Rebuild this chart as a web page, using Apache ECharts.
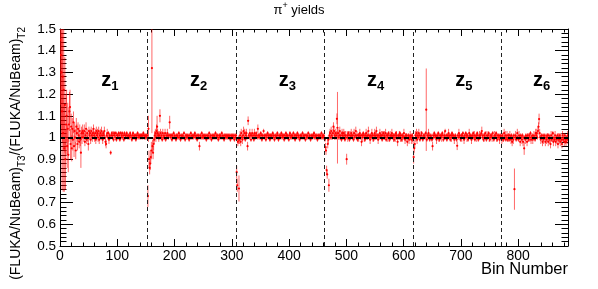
<!DOCTYPE html>
<html><head><meta charset="utf-8">
<script src="https://cdn.jsdelivr.net/npm/echarts@6/dist/echarts.min.js"></script>
<style>html,body{margin:0;padding:0;background:#fff}#c{width:598px;height:289px}</style>
</head><body><div id="c"></div>
<script>
const FONT = 'Liberation Sans, Arial, Helvetica, sans-serif';
const nBins = 887;
const zoneEdges = [153, 308, 462, 616, 771];
const zoneNames = ['1', '2', '3', '4', '5', '6'];
const zoneLabelX = [72, 227, 382, 536, 690, 826];
const zoneLabelY = 1.265;
const refLine = 1;

const ratioZ1 = [
1.45,1.38,1.30,1.12,1.28,1.02,1.22,0.95,1.15,0.90,1.06,1.10,0.96,1.04,0.92,1.06,1.12,1.14,0.97,1.05,
0.95,1.04,0.99,1.07,0.96,1.03,1.00,0.94,1.05,1.02,0.97,1.04,1.01,0.98,1.03,0.99,0.93,1.02,1.00,1.03,
1.02,1.00,1.03,0.98,1.01,1.04,0.99,1.02,1.00,0.97,1.03,1.01,1.02,0.99,1.03,1.01,1.00,1.02,1.04,1.01,
1.00,1.02,0.99,1.03,1.01,1.02,1.00,1.03,0.99,1.01,1.02,1.00,1.03,1.01,0.99,1.02,1.01,1.03,1.00,0.98,
0.97,1.01,1.02,1.00,1.02,0.99,1.01,1.00,0.93,1.01,1.02,1.00,1.01,0.99,1.02,1.01,1.00,1.02,0.99,1.01,
1.01,1.00,1.02,1.01,0.99,1.02,1.00,1.01,1.02,1.00,1.01,0.99,1.02,1.01,1.00,1.01,1.02,1.00,1.01,1.00,
1.01,1.00,1.02,1.01,1.00,0.99,1.01,1.02,1.00,1.01,1.00,1.01,0.99,1.01,1.00,1.02,1.01,1.00,1.01,1.00,
1.01,1.00,1.01,1.01,1.00,1.02,1.01,1.00,1.01,1.00,1.01,1.00,1.01];
const errZ1 = [
0.30,0.32,0.30,0.36,0.30,0.27,0.28,0.20,0.22,0.14,0.14,0.12,0.10,0.12,0.08,0.08,0.09,0.08,0.07,0.06,
0.06,0.05,0.05,0.05,0.05,0.04,0.04,0.04,0.04,0.04,0.03,0.03,0.03,0.03,0.03,0.03,0.07,0.03,0.03,0.03,
0.02,0.02,0.03,0.02,0.02,0.03,0.02,0.02,0.02,0.03,0.02,0.02,0.02,0.02,0.02,0.02,0.02,0.02,0.02,0.02,
0.02,0.02,0.02,0.02,0.02,0.02,0.02,0.02,0.02,0.02,0.02,0.01,0.02,0.02,0.02,0.01,0.02,0.02,0.01,0.02,
0.02,0.01,0.02,0.01,0.01,0.02,0.01,0.01,0.01,0.01,0.01,0.01,0.02,0.01,0.01,0.01,0.01,0.01,0.01,0.01,
0.01,0.01,0.01,0.01,0.01,0.01,0.01,0.01,0.01,0.01,0.01,0.01,0.01,0.01,0.01,0.01,0.01,0.01,0.01,0.01,
0.01,0.01,0.01,0.01,0.01,0.01,0.01,0.01,0.01,0.01,0.01,0.01,0.01,0.01,0.01,0.01,0.01,0.01,0.01,0.01,
0.01,0.01,0.01,0.01,0.01,0.01,0.01,0.01,0.01,0.01,0.01,0.01,0.01];

const ratioZ2 = [
0.73,1.04,0.90,0.86,0.88,0.91,0.94,1.32,0.96,0.93,0.97,0.99,1.01,1.02,1.00,1.03,1.05,1.02,1.01,1.00,
1.01,1.10,1.02,1.00,1.01,0.99,1.02,1.00,1.01,1.00,1.02,0.99,1.01,1.00,1.02,1.01,1.00,1.01,1.07,1.01,
1.00,1.01,0.99,1.01,1.00,1.02,1.00,1.01,1.00,0.99,1.01,1.00,1.01,1.00,1.02,1.00,1.01,0.99,1.00,1.01,
1.00,1.01,1.00,1.02,1.00,0.99,1.01,1.00,1.01,1.00,1.01,1.00,0.99,1.01,1.00,1.02,1.00,1.01,1.00,1.01,
1.00,1.01,1.02,1.00,1.01,1.00,0.99,1.01,1.00,1.01,0.96,1.00,1.01,1.00,1.02,1.00,1.01,1.00,1.01,1.00,
1.01,1.00,0.99,1.01,1.00,1.01,1.00,1.02,1.00,1.01,1.00,0.99,1.01,1.00,1.01,1.00,1.01,1.00,1.02,1.00,
1.01,1.00,1.01,0.99,1.00,1.01,1.00,1.01,1.00,1.02,1.00,1.01,1.00,0.99,1.01,1.00,1.01,1.00,1.01,1.00,
1.01,1.00,1.01,1.00,0.99,1.01,1.00,1.01,1.00,1.01,1.00,0.99,1.01,1.00,1.01];
const errZ2 = [
0.05,0.06,0.04,0.03,0.03,0.03,0.04,0.30,0.03,0.03,0.03,0.02,0.02,0.02,0.02,0.03,0.05,0.02,0.02,0.02,
0.02,0.03,0.02,0.01,0.02,0.01,0.02,0.01,0.01,0.01,0.02,0.01,0.01,0.01,0.02,0.01,0.01,0.01,0.03,0.01,
0.01,0.01,0.01,0.01,0.01,0.01,0.01,0.01,0.01,0.01,0.01,0.01,0.01,0.01,0.01,0.01,0.01,0.01,0.01,0.01,
0.01,0.01,0.01,0.01,0.01,0.01,0.01,0.01,0.01,0.01,0.01,0.01,0.01,0.01,0.01,0.01,0.01,0.01,0.01,0.01,
0.01,0.01,0.01,0.01,0.01,0.01,0.01,0.01,0.01,0.01,0.02,0.01,0.01,0.01,0.01,0.01,0.01,0.01,0.01,0.01,
0.01,0.01,0.01,0.01,0.01,0.01,0.01,0.01,0.01,0.01,0.01,0.01,0.01,0.01,0.01,0.01,0.01,0.01,0.01,0.01,
0.01,0.01,0.01,0.01,0.01,0.01,0.01,0.01,0.01,0.01,0.01,0.01,0.01,0.01,0.01,0.01,0.01,0.01,0.01,0.01,
0.01,0.01,0.01,0.01,0.01,0.01,0.01,0.01,0.01,0.01,0.01,0.01,0.01,0.01,0.01];

const ratioZ3 = [
0.84,0.78,0.98,0.99,0.765,0.99,1.01,0.98,1.02,1.00,0.99,1.01,1.03,1.00,1.02,0.99,1.01,1.02,1.00,0.96,
1.077,1.01,1.00,1.02,1.01,0.99,1.01,1.02,1.00,1.01,0.99,1.02,1.01,1.00,1.02,1.01,1.00,1.04,1.01,1.00,
1.01,1.00,1.02,1.01,0.99,1.01,1.00,1.03,1.01,1.00,1.01,0.99,1.01,1.00,1.02,1.01,1.00,1.01,0.99,1.01,
1.00,1.01,1.00,1.02,1.01,1.00,0.99,1.01,1.00,1.01,1.00,1.02,1.01,0.99,1.00,1.01,1.00,1.01,1.02,1.00,
1.01,1.00,1.01,0.99,1.01,1.00,1.02,1.01,1.00,1.01,1.00,0.99,1.01,1.02,1.00,1.01,1.00,1.01,1.00,1.02,
1.00,1.01,0.99,1.01,1.00,1.01,1.02,1.00,1.01,1.00,0.99,1.01,1.00,1.01,1.00,1.02,1.00,1.01,1.00,1.01,
0.99,1.01,1.00,1.01,1.00,1.02,1.00,1.01,1.00,0.99,1.01,1.00,1.01,1.00,1.01,1.02,1.00,1.01,1.00,1.01,
1.00,0.99,1.01,1.00,1.01,1.00,1.01,1.00,1.02,1.00,1.01,1.00,1.01,1.00];
const errZ3 = [
0.03,0.03,0.02,0.02,0.06,0.02,0.02,0.02,0.02,0.01,0.02,0.02,0.02,0.01,0.02,0.01,0.02,0.02,0.01,0.02,
0.02,0.01,0.01,0.02,0.01,0.01,0.01,0.02,0.01,0.01,0.01,0.02,0.01,0.01,0.01,0.01,0.01,0.02,0.01,0.01,
0.01,0.01,0.01,0.01,0.01,0.01,0.01,0.01,0.01,0.01,0.01,0.01,0.01,0.01,0.01,0.01,0.01,0.01,0.01,0.01,
0.01,0.01,0.01,0.01,0.01,0.01,0.01,0.01,0.01,0.01,0.01,0.01,0.01,0.01,0.01,0.01,0.01,0.01,0.01,0.01,
0.01,0.01,0.01,0.01,0.01,0.01,0.01,0.01,0.01,0.01,0.01,0.01,0.01,0.01,0.01,0.01,0.01,0.01,0.01,0.01,
0.01,0.01,0.01,0.01,0.01,0.01,0.01,0.01,0.01,0.01,0.01,0.01,0.01,0.01,0.01,0.01,0.01,0.01,0.01,0.01,
0.01,0.01,0.01,0.01,0.01,0.01,0.01,0.01,0.01,0.01,0.01,0.01,0.01,0.01,0.01,0.01,0.01,0.01,0.01,0.01,
0.01,0.01,0.01,0.01,0.01,0.01,0.01,0.01,0.01,0.01,0.01,0.01,0.01,0.01];

const ratioZ4 = [
0.99,0.955,0.94,0.85,0.83,0.97,0.99,0.78,1.01,1.02,1.00,1.03,1.01,1.00,1.02,1.05,1.03,1.01,1.00,1.02,
1.01,1.086,1.045,1.02,1.00,1.01,1.03,1.00,1.01,0.99,1.02,1.01,1.00,1.02,1.01,0.99,1.01,1.00,0.90,1.01,
1.00,1.02,1.01,0.99,1.01,1.00,1.02,1.01,1.00,1.01,0.99,1.02,1.00,1.01,1.03,1.00,1.01,0.99,1.01,1.00,
1.01,1.02,1.00,1.01,0.98,1.01,1.00,1.02,1.01,1.00,0.99,1.01,1.02,1.00,1.01,1.00,1.03,1.01,1.00,0.99,
1.01,1.00,1.02,1.01,1.00,0.99,1.01,1.02,1.00,1.01,1.03,1.00,1.01,0.99,1.01,1.00,1.02,1.01,1.00,1.01,
0.99,1.01,1.02,1.00,1.01,1.00,1.02,0.99,1.01,1.00,1.01,1.02,1.00,0.99,1.01,1.00,1.01,1.02,1.00,1.01,
1.00,0.99,1.01,1.00,1.02,1.01,1.00,0.98,1.01,1.00,1.01,1.02,1.00,1.01,0.99,1.00,1.01,1.00,1.02,1.00,
0.99,1.01,1.00,1.01,0.98,1.00,1.01,0.99,1.00,1.01,1.00,0.99,1.01,1.00];
const errZ4 = [
0.01,0.02,0.02,0.02,0.02,0.02,0.02,0.03,0.02,0.02,0.01,0.02,0.02,0.01,0.02,0.02,0.02,0.02,0.01,0.02,
0.02,0.025,0.165,0.02,0.01,0.02,0.02,0.01,0.02,0.01,0.02,0.02,0.01,0.02,0.02,0.01,0.02,0.01,0.025,0.02,
0.02,0.01,0.02,0.01,0.02,0.01,0.02,0.01,0.01,0.02,0.01,0.02,0.01,0.01,0.02,0.01,0.02,0.01,0.01,0.02,
0.01,0.02,0.01,0.01,0.02,0.01,0.02,0.01,0.01,0.02,0.01,0.01,0.02,0.01,0.02,0.01,0.02,0.01,0.01,0.02,
0.01,0.01,0.02,0.01,0.02,0.01,0.01,0.02,0.01,0.02,0.02,0.01,0.01,0.02,0.01,0.01,0.02,0.01,0.01,0.02,
0.01,0.02,0.01,0.01,0.02,0.01,0.02,0.01,0.01,0.02,0.01,0.01,0.02,0.01,0.02,0.01,0.01,0.02,0.01,0.01,
0.02,0.01,0.01,0.02,0.01,0.02,0.01,0.02,0.01,0.01,0.02,0.01,0.02,0.01,0.01,0.02,0.01,0.01,0.02,0.01,
0.02,0.01,0.02,0.01,0.02,0.01,0.01,0.02,0.01,0.02,0.01,0.02,0.01,0.02];

const ratioZ5 = [
0.99,0.91,0.95,0.97,1.01,1.00,1.02,0.99,1.01,1.00,1.02,1.01,0.99,1.00,1.01,1.02,1.00,0.99,1.01,1.00,
1.01,1.00,1.02,1.128,0.99,1.01,1.00,1.02,1.01,0.99,1.00,1.01,1.00,0.99,0.96,1.01,1.00,1.02,1.01,1.00,
1.01,0.99,1.00,1.01,1.02,1.00,0.99,1.01,1.00,1.01,1.00,1.02,1.01,0.99,1.00,1.01,1.03,1.00,1.01,0.99,
1.01,1.00,1.02,1.01,1.00,0.99,1.01,1.00,1.02,1.01,1.00,1.01,0.99,1.00,1.01,1.00,0.99,0.962,1.01,1.00,
1.02,1.01,1.00,0.99,1.01,1.00,1.01,1.02,1.00,0.99,1.01,1.00,1.02,1.01,1.00,1.01,0.99,1.00,1.02,1.01,
1.00,1.01,0.99,1.00,1.01,1.02,1.00,1.01,0.99,1.00,1.01,1.00,1.02,1.01,0.99,1.00,1.01,1.00,1.01,1.02,
1.03,1.00,1.01,0.99,1.00,1.01,1.02,1.00,0.99,1.01,1.00,1.01,1.02,1.00,0.99,1.01,1.00,1.01,1.00,1.02,
1.00,0.99,1.01,1.00,1.01,1.02,1.00,0.99,1.01,1.00,1.01,0.99,1.00,1.01,1.00];
const errZ5 = [
0.02,0.03,0.02,0.02,0.02,0.02,0.02,0.02,0.02,0.01,0.02,0.01,0.01,0.01,0.02,0.01,0.01,0.01,0.01,0.01,
0.01,0.01,0.01,0.19,0.01,0.01,0.01,0.02,0.01,0.01,0.01,0.01,0.01,0.01,0.02,0.01,0.01,0.01,0.01,0.01,
0.01,0.02,0.01,0.01,0.01,0.02,0.01,0.01,0.01,0.01,0.02,0.01,0.01,0.01,0.01,0.02,0.01,0.01,0.01,0.01,
0.01,0.01,0.02,0.01,0.01,0.01,0.01,0.02,0.01,0.01,0.01,0.01,0.02,0.01,0.01,0.01,0.01,0.02,0.01,0.01,
0.02,0.01,0.01,0.01,0.01,0.02,0.01,0.01,0.01,0.02,0.01,0.01,0.01,0.01,0.02,0.01,0.01,0.01,0.02,0.01,
0.01,0.01,0.02,0.01,0.01,0.01,0.01,0.02,0.01,0.01,0.01,0.02,0.01,0.01,0.01,0.01,0.02,0.01,0.01,0.01,
0.02,0.01,0.01,0.01,0.02,0.01,0.01,0.01,0.01,0.02,0.01,0.01,0.01,0.02,0.01,0.01,0.01,0.01,0.02,0.01,
0.01,0.01,0.02,0.01,0.01,0.01,0.02,0.01,0.01,0.01,0.01,0.02,0.01,0.01,0.01];

const ratioZ6 = [
0.99,1.01,1.00,0.99,1.02,1.00,1.01,0.99,1.00,1.01,0.99,1.00,1.01,0.99,1.01,1.00,0.99,1.01,0.98,1.00,
0.99,1.01,0.762,1.00,1.01,0.99,1.00,1.02,1.00,0.99,1.01,1.00,0.98,1.01,1.00,0.99,1.01,0.98,1.00,0.95,
1.00,0.99,1.01,1.00,0.98,1.01,1.00,0.99,1.01,1.00,1.02,0.99,1.00,1.01,0.99,1.00,1.01,1.00,0.99,1.02,
1.01,1.02,1.00,1.03,1.05,1.085,1.02,1.00,0.99,1.01,1.00,0.98,1.01,0.99,1.00,1.01,0.98,1.00,0.99,1.01,
1.00,0.98,1.01,0.99,1.00,0.97,1.01,0.99,1.00,1.02,0.98,1.00,0.99,1.01,0.98,1.00,0.99,1.01,0.97,1.00,
0.99,1.01,0.98,1.00,0.99,0.97,1.01,0.99,1.00,0.98,1.01,0.99,0.98,1.00,0.99,1.01];
const errZ6 = [
0.02,0.01,0.02,0.01,0.02,0.01,0.02,0.01,0.01,0.02,0.01,0.02,0.01,0.01,0.02,0.01,0.02,0.01,0.02,0.01,
0.02,0.01,0.095,0.01,0.02,0.01,0.01,0.02,0.01,0.01,0.02,0.01,0.02,0.01,0.01,0.02,0.01,0.02,0.01,0.03,
0.01,0.02,0.01,0.01,0.02,0.01,0.02,0.01,0.01,0.02,0.01,0.02,0.01,0.01,0.02,0.01,0.02,0.01,0.01,0.02,
0.01,0.02,0.01,0.02,0.02,0.025,0.02,0.01,0.02,0.01,0.01,0.02,0.01,0.02,0.01,0.01,0.02,0.01,0.02,0.01,
0.02,0.02,0.01,0.02,0.01,0.02,0.02,0.01,0.02,0.01,0.02,0.02,0.01,0.02,0.02,0.01,0.02,0.01,0.02,0.02,
0.02,0.01,0.02,0.02,0.01,0.02,0.02,0.01,0.02,0.02,0.01,0.02,0.02,0.01,0.02,0.02];

const ratio = [].concat(ratioZ1, ratioZ2, ratioZ3, ratioZ4, ratioZ5, ratioZ6);
const err = [].concat(errZ1, errZ2, errZ3, errZ4, errZ5, errZ6);
const points = ratio.map((v, i) => [i + 0.5, v, err[i]]);
const labelData = zoneLabelX.map((x, i) => [x, zoneLabelY, zoneNames[i]]);

const chart = echarts.init(document.getElementById('c'), null, {renderer: 'canvas'});

const baseX = {
  type: 'value', min: 0, max: nBins, interval: 100,
  axisLine: {show: true, onZero: false, lineStyle: {color: '#000', width: 1}},
  axisTick: {show: true, inside: true, length: 7, lineStyle: {color: '#000', width: 1}},
  minorTick: {show: true, splitNumber: 5, length: 3.5, lineStyle: {color: '#000', width: 1}},
  splitLine: {show: false}, minorSplitLine: {show: false}
};
const baseY = {
  type: 'value', min: 0.5, max: 1.5, interval: 0.1,
  axisLine: {show: true, onZero: false, lineStyle: {color: '#000', width: 1}},
  axisTick: {show: true, inside: true, length: 13, lineStyle: {color: '#000', width: 1}},
  minorTick: {show: true, splitNumber: 5, length: 6.5, lineStyle: {color: '#000', width: 1}},
  splitLine: {show: false}, minorSplitLine: {show: false}
};

chart.setOption({
  animation: false,
  backgroundColor: '#fff',
  textStyle: {fontFamily: FONT},
  title: {
    text: '{a|π}{s|+}{a| yields}',
    left: 'center', top: 1, padding: 0,
    textStyle: {
      fontWeight: 'normal',
      rich: {
        a: {fontSize: 13, fontWeight: 'normal', fontFamily: FONT, color: '#000', lineHeight: 15, padding: [3, 0, 0, 0], verticalAlign: 'top'},
        s: {fontSize: 9, fontWeight: 'normal', fontFamily: FONT, color: '#000', lineHeight: 10, verticalAlign: 'top'}
      }
    }
  },
  grid: {left: 60, right: 30, top: 29, bottom: 43, containLabel: false},
  xAxis: [
    Object.assign({}, baseX, {position: 'bottom',
      axisLabel: {show: true, color: '#000', fontSize: 14, fontFamily: FONT, margin: 3, showMaxLabel: false}}),
    Object.assign({}, baseX, {position: 'top', axisLabel: {show: false}})
  ],
  yAxis: [
    Object.assign({}, baseY, {position: 'left',
      axisLabel: {show: true, color: '#000', fontSize: 13.5, fontFamily: FONT, margin: 4}}),
    Object.assign({}, baseY, {position: 'right', axisLabel: {show: false}})
  ],
  graphic: [
    {
      type: 'text', x: 17, y: 27, rotation: Math.PI / 2, z: 10,
      style: {
        text: '{a|(FLUKA/NuBeam)}{s|T3}{a|/(FLUKA/NuBeam)}{s|T2}',
        align: 'right', verticalAlign: 'middle',
        rich: {
          a: {fontSize: 14, fontFamily: FONT, fill: '#000', lineHeight: 16, verticalAlign: 'top'},
          s: {fontSize: 10, fontFamily: FONT, fill: '#000', lineHeight: 11, padding: [8, 0, 0, 0], verticalAlign: 'top'}
        }
      }
    },
    {
      type: 'text', right: 30, top: 261, z: 10,
      style: {text: 'Bin Number', font: '16.5px ' + FONT, fill: '#000'}
    }
  ],
  series: [
    {
      type: 'line', data: [], xAxisIndex: 0, yAxisIndex: 0, z: 1,
      markLine: {
        silent: true, symbol: 'none', label: {show: false},
        lineStyle: {color: '#222', width: 1, type: [4, 3]},
        data: zoneEdges.map(v => ({xAxis: v}))
      }
    },
    {
      type: 'custom', xAxisIndex: 0, yAxisIndex: 0, z: 2, clip: true,
      data: points,
      encode: {x: 0, y: 1},
      renderItem: function (params, api) {
        const x = api.value(0), v = api.value(1), e = api.value(2);
        const t = api.coord([x, v + e]), b = api.coord([x, v - e]), c = api.coord([x, v]);
        return {
          type: 'group',
          children: [
            {type: 'line', shape: {x1: t[0], y1: t[1], x2: b[0], y2: b[1]}, style: {stroke: 'rgba(255,0,0,0.75)', lineWidth: 0.8}},
            {type: 'circle', shape: {cx: c[0], cy: c[1], r: 1.1}, style: {fill: '#ff0000'}}
          ]
        };
      }
    },
    {
      type: 'line', data: [], xAxisIndex: 0, yAxisIndex: 0, z: 3,
      markLine: {
        silent: true, symbol: 'none', label: {show: false},
        lineStyle: {color: '#000', width: 2, type: [5, 3]},
        data: [{yAxis: refLine}]
      }
    },
    {
      type: 'scatter', xAxisIndex: 0, yAxisIndex: 0, z: 4, symbolSize: 0, silent: true,
      itemStyle: {color: '#000', opacity: 1},
      data: labelData,
      label: {
        show: true, position: [0, 0], align: 'left', verticalAlign: 'middle',
        color: '#000', opacity: 1, textBorderWidth: 0,
        formatter: p => '{z|z}{n|' + p.data[2] + '}',
        rich: {
          z: {fontSize: 20, fontWeight: 'bold', fontFamily: FONT, color: '#000', textBorderWidth: 0, lineHeight: 20, verticalAlign: 'top'},
          n: {fontSize: 13, fontWeight: 'bold', fontFamily: FONT, color: '#000', textBorderWidth: 0, lineHeight: 14, padding: [10, 0, 0, 0], verticalAlign: 'top'}
        }
      },
      emphasis: {disabled: true}
    }
  ]
});
</script>
</body></html>
